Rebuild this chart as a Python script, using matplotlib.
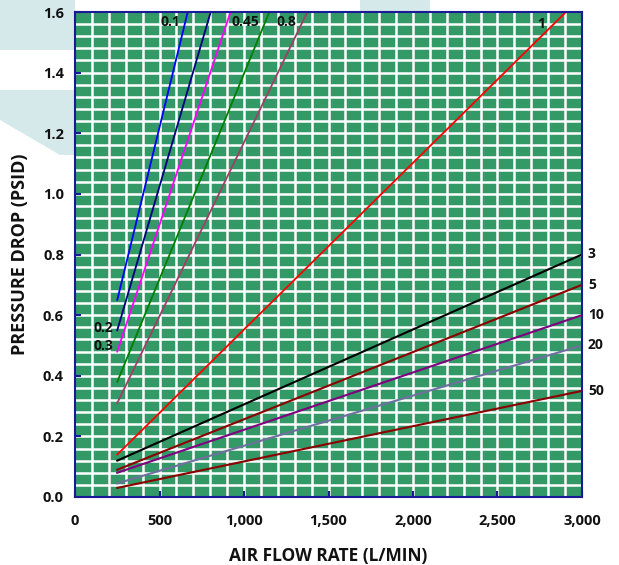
import matplotlib
matplotlib.use("Agg")
import matplotlib.pyplot as plt
from matplotlib.patches import Polygon
import numpy as np

# filter curves: (start flow, start dp) -> (end flow, end dp)
steep_names = ["0.1", "0.2", "0.3", "0.45", "0.8", "1"]
steep_x = [[250, 667], [250, 803], [250, 920], [250, 1150], [250, 1375], [250, 2905]]
steep_y = [[0.65, 1.6], [0.55, 1.6], [0.48, 1.6], [0.38, 1.6], [0.31, 1.6], [0.14, 1.6]]
steep_colors = ["#0000ff", "#000080", "#ff00ff", "#008000", "#a0406a", "#ff0000"]

flat_names = ["3", "5", "10", "20", "50"]
flat_x = [[250, 3000]] * 5
flat_y = [[0.12, 0.80], [0.09, 0.70], [0.08, 0.60], [0.045, 0.50], [0.03, 0.35]]
flat_colors = ["#000000", "#8b0000", "#800080", "#7070a0", "#8b0000"]

x_ticks = [0, 500, 1000, 1500, 2000, 2500, 3000]
x_tick_labels = ["0", "500", "1,000", "1,500", "2,000", "2,500", "3,000"]
y_ticks = [0.0, 0.2, 0.4, 0.6, 0.8, 1.0, 1.2, 1.4, 1.6]

plt.rcParams["font.family"] = ["Open Sans", "DejaVu Sans"]

fig = plt.figure(figsize=(6.19, 5.65), dpi=100)

# faint watermark shapes behind the chart
wm = "#d5e9ea"
W, H = 619.0, 565.0
def px(pts):
    return [(x / W, 1 - y / H) for x, y in pts]
for pts in [
    [(0, 0), (75, 0), (75, 50), (0, 50)],
    [(0, 90), (75, 90), (75, 155), (60, 155), (0, 120)],
    [(360, 0), (430, 0), (430, 12), (360, 12)],
]:
    fig.patches.append(Polygon(px(pts), closed=True, transform=fig.transFigure,
                               facecolor=wm, edgecolor="none", zorder=-5))

ax = fig.add_axes([75 / W, 68 / H, 507 / W, 485 / H])
ax.set_zorder(2)
ax.set_facecolor("#339966")
ax.set_xlim(0, 3000)
ax.set_ylim(0, 1.6)

# white grid
for gx in np.arange(100, 3000, 100):
    ax.axvline(gx, color="white", lw=1.8, zorder=1)
for gy in np.arange(0.04, 1.6, 0.04):
    ax.axhline(gy, color="white", lw=1.8, zorder=1)

for xs, ys, c in zip(steep_x, steep_y, steep_colors):
    ax.plot(xs, ys, color=c, lw=1.3, zorder=3)
for xs, ys, c in zip(flat_x, flat_y, flat_colors):
    ax.plot(xs, ys, color=c, lw=1.5, zorder=3)

lab = dict(fontsize=10, fontweight="bold", color="#111111", zorder=4)
ax.text(562, 1.567, "0.1", ha="center", va="center", **lab)
ax.text(166, 0.558, "0.2", ha="center", va="center", **lab)
ax.text(166, 0.498, "0.3", ha="center", va="center", **lab)
ax.text(1006, 1.567, "0.45", ha="center", va="center", **lab)
ax.text(1254, 1.567, "0.8", ha="center", va="center", **lab)
ax.text(2757, 1.560, "1", ha="center", va="center", **lab)
for name, ys in zip(flat_names, flat_y):
    ax.text(3035, ys[1], name, ha="left", va="center", clip_on=False, **lab)

for sp in ax.spines.values():
    sp.set_color("#1a1a99")
    sp.set_linewidth(1.5)
    sp.set_zorder(5)

ax.set_xticks(x_ticks)
ax.set_xticklabels(x_tick_labels)
ax.set_yticks(y_ticks)
ax.set_yticklabels([f"{v:.1f}" for v in y_ticks])
ax.tick_params(direction="in", color="#1a1a99", length=4, width=1.5,
               labelsize=10.5, labelcolor="#111111")
ax.tick_params(axis="x", pad=12)
ax.tick_params(axis="y", pad=8)
for t in ax.get_xticklabels() + ax.get_yticklabels():
    t.set_fontweight("bold")

ax.set_xlabel("AIR FLOW RATE (L/MIN)", fontsize=12.5, fontweight="bold",
              color="#111111", labelpad=14)
ax.set_ylabel("PRESSURE DROP (PSID)", fontsize=13, fontweight="bold",
              color="#111111", labelpad=10)

fig.savefig("out.png", dpi=100)
